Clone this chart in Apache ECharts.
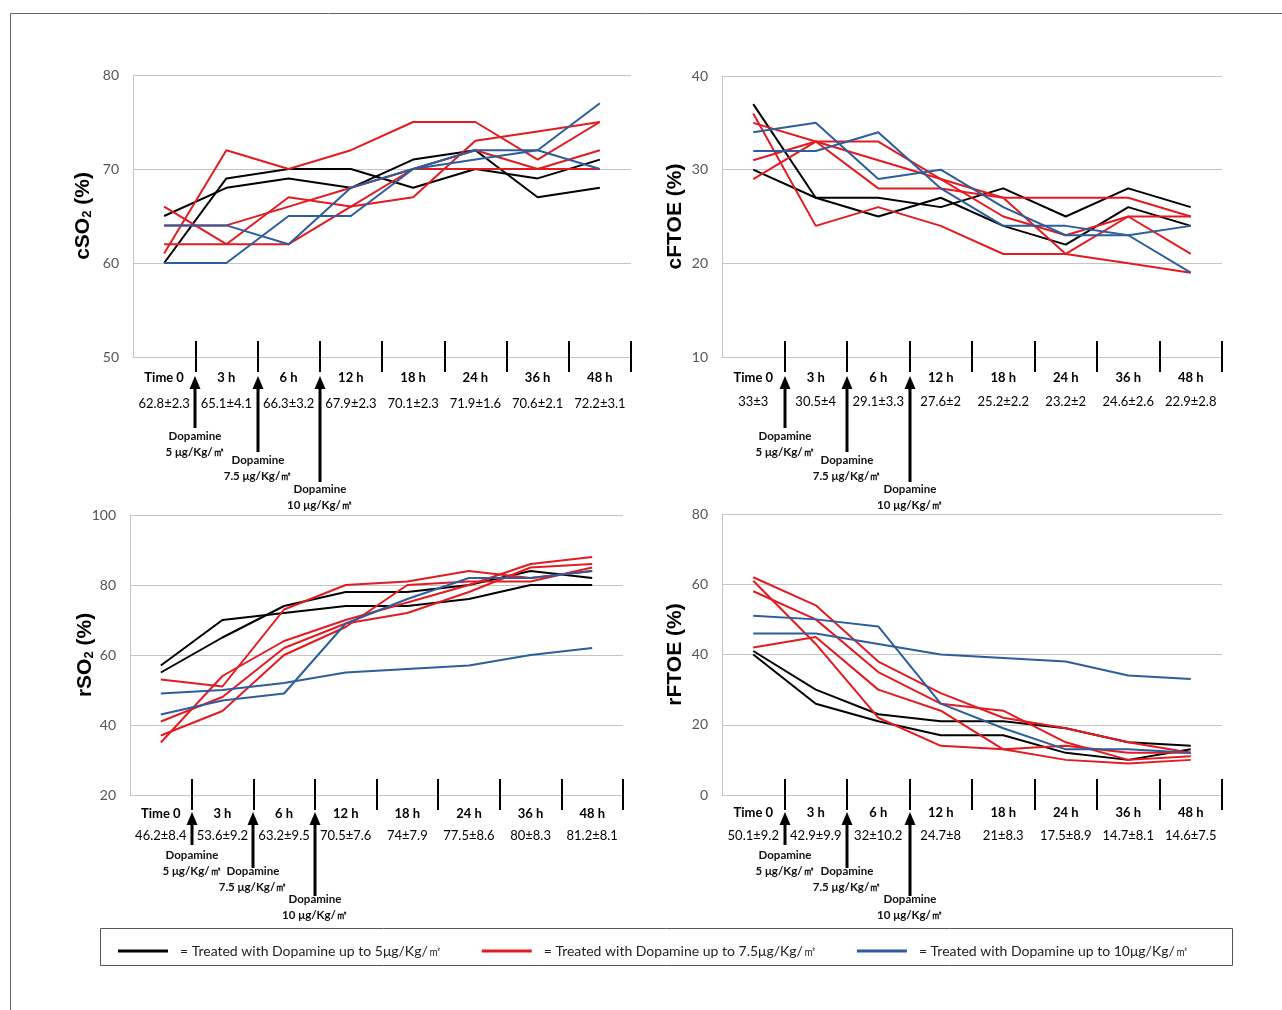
<!DOCTYPE html>
<html>
<head>
<meta charset="utf-8">
<title>NIRS dopamine</title>
<script src="https://cdn.jsdelivr.net/npm/echarts@6/dist/echarts.min.js"></script>
<style>
html,body{margin:0;padding:0;background:#fff;}
#main{width:1282px;height:1010px;}
</style>
</head>
<body>
<div id="main"></div>
<script>
var categories = ['Time 0','3 h','6 h','12 h','18 h','24 h','36 h','48 h'];
var groupNames = ['= Treated with Dopamine up to 5μg/Kg/㎡','= Treated with Dopamine up to 7.5μg/Kg/㎡','= Treated with Dopamine up to 10μg/Kg/㎡'];
var doseLabels = ['5 μg/Kg/㎡','7.5 μg/Kg/㎡','10 μg/Kg/㎡'];

// cSO2 (%)
var cso2Means = ['62.8±2.3','65.1±4.1','66.3±3.2','67.9±2.3','70.1±2.3','71.9±1.6','70.6±2.1','72.2±3.1'];
var cso2Black = [[60,69,70,70,68,70,69,71],[65,68,69,68,71,72,67,68]];
var cso2Red = [[61,72,70,72,75,75,71,75],[66,62,67,66,67,73,74,75],[62,62,62,66,70,72,70,72],[64,64,66,68,70,70,70,70]];
var cso2Blue = [[64,64,62,68,70,72,72,70],[60,60,65,65,70,71,72,77]];

// cFTOE (%)
var cftoeMeans = ['33±3','30.5±4','29.1±3.3','27.6±2','25.2±2.2','23.2±2','24.6±2.6','22.9±2.8'];
var cftoeBlack = [[37,27,27,26,28,25,28,26],[30,27,25,27,24,22,26,24]];
var cftoeRed = [[36,24,26,24,21,21,20,19],[35,33,33,29,27,27,27,25],[31,33,31,29,25,23,25,21],[29,33,28,28,27,21,25,25]];
var cftoeBlue = [[34,35,29,30,26,23,23,19],[32,32,34,28,24,24,23,24]];

// rSO2 (%)
var rso2Means = ['46.2±8.4','53.6±9.2','63.2±9.5','70.5±7.6','74±7.9','77.5±8.6','80±8.3','81.2±8.1'];
var rso2Black = [[57,70,72,74,74,76,80,80],[55,65,74,78,78,80,84,82]];
var rso2Red = [[53,51,73,80,81,84,82,84],[35,54,64,70,75,80,86,88],[41,48,62,69,72,78,85,86],[37,44,60,68,80,81,81,85]];
var rso2Blue = [[49,50,52,55,56,57,60,62],[43,47,49,69,76,82,82,84]];

// rFTOE (%)
var rftoeMeans = ['50.1±9.2','42.9±9.9','32±10.2','24.7±8','21±8.3','17.5±8.9','14.7±8.1','14.6±7.5'];
var rftoeBlack = [[41,30,23,21,21,19,15,14],[40,26,21,17,17,12,10,13]];
var rftoeRed = [[62,54,38,29,22,19,15,12],[61,43,22,14,13,14,12,12],[58,50,35,26,24,15,10,11],[42,45,30,24,13,10,9,10]];
var rftoeBlue = [[46,46,43,40,39,38,34,33],[51,50,48,26,19,13,13,12]];

var colors = ['#000000','#e31b20','#2c5d9c'];
var fontFam = 'Lato, "Noto Sans", sans-serif';

var panels = [
	{name:'{t|cSO}{s|2}{t| (%)}', min:50, max:80, interval:10, means:cso2Means, lines:[cso2Black,cso2Red,cso2Blue],
	 grid:{left:133, top:75, width:498, height:282}, nameGap:39, margin:9, lh:[24,28], arrow:'top'},
	{name:'cFTOE (%)', min:10, max:40, interval:10, means:cftoeMeans, lines:[cftoeBlack,cftoeRed,cftoeBlue],
	 grid:{left:722, top:76, width:500, height:281}, nameGap:36, margin:9, lh:[24,24], arrow:'top'},
	{name:'{t|rSO}{s|2}{t| (%)}', min:20, max:100, interval:20, means:rso2Means, lines:[rso2Black,rso2Red,rso2Blue],
	 grid:{left:130, top:515, width:493, height:280}, nameGap:34, margin:7, lh:[24,20], arrow:'bottom'},
	{name:'rFTOE (%)', min:0, max:80, interval:20, means:rftoeMeans, lines:[rftoeBlack,rftoeRed,rftoeBlue],
	 grid:{left:722, top:514, width:500, height:281}, nameGap:36, margin:6, lh:[24,22], arrow:'bottom'}
];

//箭头位置（相对x轴）
var arrowTop = {tip:19, ends:[71,95,125], text:[[79,95],[103,119],[132,148]]};
var arrowBottom = {tip:17, ends:[50,73,101], text:[[60,76],[76,92],[104,120]]};

var skipFirst = function(index){ return index > 0; };

var option = {
	animation: false,
	grid: [],
	xAxis: [],
	yAxis: [],
	series: [],
	legend: {
		data: groupNames,
		left: 113,
		top: 939,
		icon: 'rect',
		itemWidth: 50,
		itemHeight: 3,
		itemGap: 40,
		selectedMode: false,
		textStyle: {fontSize: 14, fontFamily: fontFam, color: '#222', padding: [0,0,0,7]}
	}
};

panels.forEach(function(p, k){
	option.grid.push(p.grid);
	option.xAxis.push({
		type: 'category',
		gridIndex: k,
		position: 'bottom',
		data: categories,
		axisLine: {lineStyle: {color: '#c4c4c4', width: 1}},
		axisTick: {show: true, interval: skipFirst, length: 15, lineStyle: {color: '#000', width: 2}},
		axisLabel: {
			interval: 0,
			margin: p.margin,
			color: '#000',
			formatter: function(value, index){
				return '{a|' + value + '}\n{b|' + p.means[index] + '}';
			},
			rich: {
				a: {fontSize: 13, fontWeight: 'bold', fontFamily: fontFam, lineHeight: p.lh[0], color: '#000'},
				b: {fontSize: 13, fontFamily: fontFam, lineHeight: p.lh[1], color: '#000'}
			}
		}
	});
	// 轴线上方的刻度
	option.xAxis.push({
		type: 'category',
		gridIndex: k,
		position: 'bottom',
		data: categories,
		axisLine: {show: false},
		axisLabel: {show: false},
		axisTick: {show: true, inside: true, interval: skipFirst, length: 16, lineStyle: {color: '#000', width: 2}}
	});
	option.yAxis.push({
		type: 'value',
		gridIndex: k,
		min: p.min,
		max: p.max,
		interval: p.interval,
		name: p.name,
		nameLocation: 'middle',
		nameGap: p.nameGap,
		nameMoveOverlap: false,
		nameRotate: 90,
		nameTextStyle: {
			fontSize: 21, fontWeight: 'bold', color: '#000', fontFamily: '"Liberation Sans", Arial, sans-serif',
			rich: {
				t: {fontSize: 21, fontWeight: 'bold', color: '#000', fontFamily: '"Liberation Sans", Arial, sans-serif'},
				s: {fontSize: 13, fontWeight: 'bold', color: '#000', fontFamily: '"Liberation Sans", Arial, sans-serif', verticalAlign: 'bottom'}
			}
		},
		axisLine: {show: true, lineStyle: {color: '#c4c4c4', width: 1}},
		axisTick: {show: false},
		axisLabel: {color: '#555', fontSize: 14, fontFamily: fontFam, margin: 14},
		splitLine: {lineStyle: {color: '#c4c4c4', width: 1}}
	});
	p.lines.forEach(function(group, gi){
		group.forEach(function(vals){
			option.series.push({
				name: groupNames[gi],
				type: 'line',
				xAxisIndex: 2 * k,
				yAxisIndex: k,
				data: vals,
				symbol: 'none',
				itemStyle: {color: colors[gi]},
				lineStyle: {color: colors[gi], width: 2},
				z: 2 + gi
			});
		});
	});
});

var chart = echarts.init(document.getElementById('main'), null, {renderer: 'canvas'});
chart.setOption(option);

//箭头和多巴胺标注，外框和图例框
var g = [
	{type: 'rect', shape: {x: 10.5, y: 13.5, width: 1400, height: 1100}, style: {fill: 'none', stroke: '#666', lineWidth: 1}, silent: true},
	{type: 'rect', shape: {x: 100.5, y: 928.5, width: 1132, height: 37}, style: {fill: 'none', stroke: '#555', lineWidth: 1}, silent: true, z: -1}
];
panels.forEach(function(p, k){
	var a = p.arrow == 'top' ? arrowTop : arrowBottom;
	var y0 = chart.convertToPixel({yAxisIndex: k}, p.min);
	for (var i = 0; i < 3; i++) {
		var x = Math.round((chart.convertToPixel({xAxisIndex: 2 * k}, i) + chart.convertToPixel({xAxisIndex: 2 * k}, i + 1)) / 2);
		var tip = y0 + a.tip;
		g.push({type: 'line', shape: {x1: x, y1: tip + 10, x2: x, y2: y0 + a.ends[i]}, style: {stroke: '#000', lineWidth: 3}, silent: true});
		g.push({type: 'polygon', shape: {points: [[x, tip], [x - 5.5, tip + 13], [x + 5.5, tip + 13]]}, style: {fill: '#000'}, silent: true});
		g.push({type: 'text', style: {text: 'Dopamine', x: x, y: y0 + a.text[i][0], align: 'center', verticalAlign: 'middle', font: 'bold 11.5px ' + fontFam, fill: '#111'}, silent: true});
		g.push({type: 'text', style: {text: doseLabels[i], x: x, y: y0 + a.text[i][1], align: 'center', verticalAlign: 'middle', font: 'bold 11.5px ' + fontFam, fill: '#111'}, silent: true});
	}
});
chart.setOption({graphic: g});
</script>
</body>
</html>
